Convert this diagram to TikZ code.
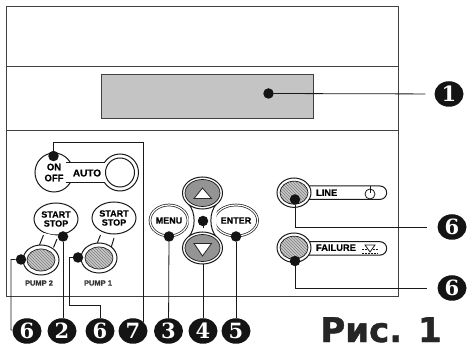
\documentclass[tikz,border=0pt]{standalone}
\usepackage{fontspec}
\setmainfont{Liberation Sans}[BoldFeatures={FakeBold=0.6}]
\newfontfamily\badgefont{DejaVu Serif}
\newfontfamily\titlefont{DejaVu Sans}[BoldFeatures={FakeBold=1.2}]
\usetikzlibrary{shapes.geometric,patterns}

\tikzset{
    frame/.style={draw=black!75, line width=1pt},
    wire/.style={draw=black!90, line width=0.8pt},
    outline/.style={draw=black!90, line width=1pt, fill=white},
    dot/.style={circle, fill=black!92, inner sep=0pt, minimum size=10.5pt},
    badge/.style={ellipse, fill=black!92, text=white, inner sep=0pt, minimum width=29pt, minimum height=25.5pt,
        font=\badgefont\bfseries\fontsize{21}{21}\selectfont},
    blob/.style={ellipse, outline, inner sep=0pt, minimum width=44pt, minimum height=32pt, align=center,
        font=\bfseries\fontsize{9}{9}\selectfont},
    softkey/.style={ellipse, draw=black!90, fill=white, double, line width=0.7pt, double distance=1.2pt, inner sep=0pt,
        minimum width=38pt, minimum height=31pt, font=\bfseries\fontsize{9}{9}\selectfont},
    lamp/.style={draw=black!90, line width=0.7pt, preaction={fill=black!22}, pattern=north west lines, pattern color=black!50},
    arrowkey/.style={draw=black!90, line width=0.7pt, fill=black!42},
    tip/.style={draw=black!85, line width=0.8pt, fill=white},
    tag/.style={inner sep=0pt, font=\bfseries\fontsize{9.3}{9.3}\selectfont},
    pumptag/.style={inner sep=0pt, text=black!80, font=\bfseries\fontsize{7.5}{7.5}\selectfont}
}

\begin{document}
\begin{tikzpicture}[x=1pt, y=-1pt]
    \useasboundingbox (0,0) rectangle (467,345);

    % Draw the panel
    \draw[frame] (6,7) rectangle (398.5,296.5);
    \draw[frame] (6,67) -- (398.5,67);
    \draw[frame] (6,130.5) -- (398.5,130.5);

    % Draw the display
    \draw[frame, fill=black!23] (101,75) rectangle (313.5,119);

    % Draw the ON OFF AUTO switch
    \draw[outline] (54,172.5) ellipse (19pt and 19.5pt);
    \draw[outline] (120,172.5) circle (18.5pt);
    \fill[white] (60,163.5) rectangle (110,182);
    \draw[outline] (66,163) -- (105,163);
    \draw[outline] (66,182.5) -- (105,182.5);
    \draw[outline] (120,172.5) circle (14.5pt);
    \node (onoff) at (54,172.5) [align=center, inner sep=0pt, font=\bfseries\fontsize{9.5}{11}\selectfont] {ON\\OFF};
    \node (auto) at (87,173) [inner sep=0pt, font=\bfseries\fontsize{10}{10}\selectfont] {AUTO};

    % Draw the pump 2 key
    \node (starttwo) at (56,219) [blob] {START\\STOP};
    \fill[white] (43.5,233) -- (39.5,246) -- (53.5,248) -- (57,236) -- cycle;
    \draw[outline] (43.5,235) -- (39.5,245);
    \draw[outline] (57,239) -- (53.5,247.5);
    \draw[outline] (41,260) ellipse (18pt and 15pt);
    \draw[lamp] (41,260) ellipse (14pt and 11pt);
    \node (pumptwo) at (39,283) [pumptag] {PUMP 2};

    % Draw the pump 1 key
    \node (startone) at (114,218) [blob] {START\\STOP};
    \fill[white] (100.5,233) -- (96.5,246) -- (111,248) -- (114,236) -- cycle;
    \draw[outline] (100.5,235) -- (96.5,245);
    \draw[outline] (114,238) -- (111,248);
    \draw[outline] (99,258) ellipse (18pt and 15pt);
    \draw[lamp] (99,258) ellipse (14pt and 11pt);
    \node (pumpone) at (98,283) [pumptag] {PUMP 1};

    % Draw the menu keys
    \node (menu) at (169,220.5) [softkey] {MENU};
    \node (enter) at (236,220.5) [softkey] {ENTER};

    % Draw the arrow keys
    \draw[outline] (188.5,204) .. controls (196,212) and (196,229) .. (188.5,237);
    \draw[outline] (216.5,204) .. controls (209,212) and (209,229) .. (216.5,237);
    \draw[outline] (202.5,193) ellipse (20pt and 16pt);
    \draw[arrowkey] (202.5,193) ellipse (17.5pt and 13.5pt);
    \draw[outline] (202.5,248) ellipse (20pt and 16pt);
    \draw[arrowkey] (202.5,248) ellipse (17.5pt and 13.5pt);
    \draw[tip] (194,198.5) -- (211.5,198.5) -- (202.5,188) -- cycle;
    \draw[tip] (194,243.5) -- (211.5,243.5) -- (202.5,256) -- cycle;

    % Draw the LINE lamp
    \draw[outline] (294,186) -- (380,186) arc (90:-90:6.7pt) -- (294,199.4);
    \draw[outline] (294,192.7) ellipse (17pt and 14.7pt);
    \draw[lamp] (294,192.7) ellipse (14pt and 11.5pt);
    \node (line) at (326.7,192.7) [tag] {LINE};
    \draw[wire] (370,194) circle (5pt);
    \draw[wire] (370,186.5) -- (370,193);

    % Draw the FAILURE lamp
    \draw[outline] (294,241.7) -- (380,241.7) arc (90:-90:6.7pt) -- (294,255.1);
    \draw[outline] (294,247.7) ellipse (17pt and 14.7pt);
    \draw[lamp] (294,247.7) ellipse (14pt and 11.5pt);
    \node (failure) at (336,247.7) [tag] {FAILURE};
    \draw[wire] (365,245) -- (375,245) -- (370,252) -- cycle;
    \draw[wire, dash pattern=on 2pt off 1pt] (362,249.5) -- (367,249.5);
    \draw[wire, dash pattern=on 2pt off 1pt] (373,249.5) -- (378,249.5);
    \draw[wire, dash pattern=on 2pt off 1pt] (362,253) -- (378,253);

    % Place the dots
    \node (dotdisplay) at (268.5,93.5) [dot] {};
    \node (dotswitch) at (53.5,156) [dot] {};
    \node (dotstarttwo) at (63,236.5) [dot] {};
    \node (dotpumptwo) at (21,259.5) [dot] {};
    \node (dotpumpone) at (78,257.5) [dot] {};
    \node (dotmenu) at (169,236.5) [dot] {};
    \node (dotarrows) at (203,221) [dot] {};
    \node (dotenter) at (236,236.5) [dot] {};
    \node (dotline) at (295,199.5) [dot] {};
    \node (dotfailure) at (295,261) [dot] {};

    % Place the numbers
    \node (numdisplay) at (449,94) [badge] {1};
    \node (numpumptwo) at (27,331) [badge] {6};
    \node (numstarttwo) at (62,331) [badge] {2};
    \node (numpumpone) at (100,331) [badge] {6};
    \node (numswitch) at (133,331) [badge] {7};
    \node (nummenu) at (168.5,331) [badge] {3};
    \node (numarrows) at (203,331) [badge] {4};
    \node (numenter) at (236,331) [badge] {5};
    \node (numline) at (452,227) [badge] {6};
    \node (numfailure) at (452,288) [badge] {6};

    % Draw the connectors
    \coordinate (turnswitch) at (143,142.7);
    \coordinate (turnpumptwo) at (11,330);
    \coordinate (turnpumpone) at (69.5,305.7);

    \draw[wire, shorten >=9pt] (dotdisplay) -- (numdisplay);
    \draw[wire] (dotswitch) |- (turnswitch) -- (143,322);
    \draw[wire] (dotstarttwo) -- (numstarttwo.north -| dotstarttwo);
    \draw[wire] (dotpumptwo) -| (turnpumptwo) -- (numpumptwo);
    \draw[wire] (dotpumpone) -| (turnpumpone) -| (numpumpone);
    \draw[wire] (dotmenu) -- (nummenu);
    \draw[wire] (dotarrows) -- (203,228);
    \draw[wire] (203,264) -- (numarrows);
    \draw[wire] (dotenter) -- (numenter);
    \draw[wire, shorten >=10pt] (dotline) |- (numline);
    \draw[wire, shorten >=10pt] (dotfailure) |- (numfailure);

    % Place the caption
    \node (caption) at (381,342) [anchor=base, inner sep=0pt, text=black!85, font=\titlefont\bfseries\fontsize{34}{34}\selectfont] {Рис. 1};
\end{tikzpicture}
\end{document}
